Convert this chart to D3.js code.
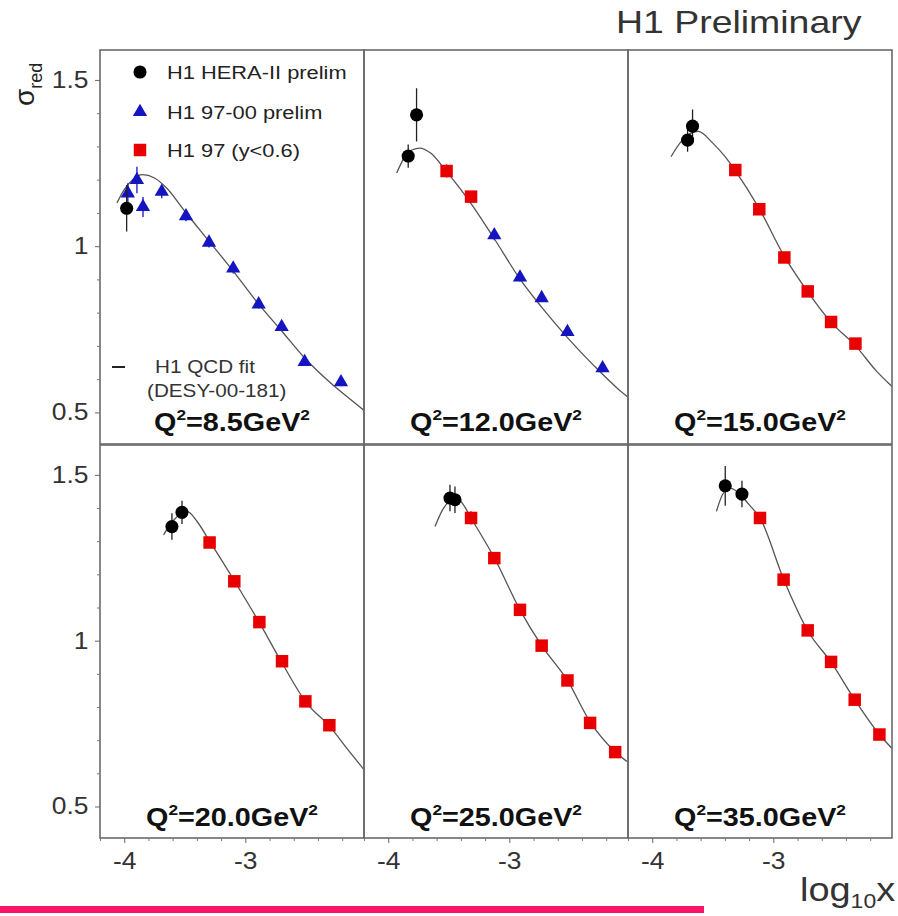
<!DOCTYPE html>
<html><head><meta charset="utf-8">
<script src="https://cdn.jsdelivr.net/npm/d3@7"></script>
<style>body{margin:0;background:#fff}svg{display:block}</style>
</head><body><svg id="c" width="898" height="916"></svg>
<script>
// ---------------- data ----------------
const q2Labels = ["8.5", "12.0", "15.0", "20.0", "25.0", "35.0"];

// H1 HERA-II prelim (black circles)
const heraX   = [[-3.98], [-3.835, -3.766], [-3.708, -3.667], [-3.606, -3.523], [-3.49, -3.449], [-3.397, -3.259]];
const heraY   = [[1.114], [1.271, 1.395], [1.319, 1.361], [1.344, 1.387], [1.43, 1.425], [1.467, 1.442]];
const heraErr = [[0.07], [0.035, 0.08], [0.035, 0.05], [0.04, 0.035], [0.04, 0.04], [0.06, 0.04]];

// H1 97-00 prelim (blue triangles)
const h9700X   = [[-3.97, -3.895, -3.845, -3.69, -3.49, -3.30, -3.10, -2.89, -2.70, -2.51, -2.21],
                  [-3.124, -2.912, -2.733, -2.52, -2.23], [], [], [], []];
const h9700Y   = [[1.159, 1.199, 1.118, 1.164, 1.09, 1.011, 0.933, 0.825, 0.757, 0.652, 0.591],
                  [1.033, 0.906, 0.844, 0.742, 0.633], [], [], [], []];
const h9700Err = [[0.03, 0.04, 0.03, 0.02, 0.015, 0.015, 0.015, 0.012, 0.012, 0.012, 0.012],
                  [0.015, 0.012, 0.012, 0.012, 0.012], [], [], [], []];

// H1 97 (y<0.6) (red squares)
const h97X = [[],
              [-3.518, -3.316],
              [-3.314, -3.116, -2.909, -2.716, -2.523, -2.322],
              [-3.295, -3.091, -2.884, -2.697, -2.504, -2.306],
              [-3.316, -3.124, -2.912, -2.733, -2.52, -2.333, -2.126],
              [-3.11, -2.915, -2.716, -2.523, -2.328, -2.124]];
const h97Y = [[],
              [1.226, 1.149],
              [1.229, 1.111, 0.966, 0.864, 0.772, 0.707],
              [1.296, 1.179, 1.056, 0.938, 0.817, 0.745],
              [1.370, 1.249, 1.093, 0.985, 0.88, 0.752, 0.664],
              [1.370, 1.184, 1.031, 0.936, 0.822, 0.717]];
const h97Err = [[], [0.02, 0.015], [0.015, 0.012, 0.012, 0.012, 0.012, 0.012],
                [0.015, 0.012, 0.012, 0.012, 0.012, 0.012],
                [0.02, 0.012, 0.012, 0.012, 0.012, 0.012, 0.012],
                [0.015, 0.012, 0.012, 0.012, 0.012, 0.012]];

// H1 QCD fit curve
const fitX = [
  [-4.06, -4.0, -3.93, -3.85, -3.75, -3.65, -3.5, -3.3, -3.1, -2.9, -2.7, -2.5, -2.3, -2.1, -2.02],
  [-3.93, -3.87, -3.8, -3.74, -3.65, -3.52, -3.4, -3.3, -3.12, -2.91, -2.73, -2.52, -2.3, -2.1, -2.02],
  [-3.845, -3.76, -3.68, -3.62, -3.5, -3.4, -3.31, -3.12, -2.91, -2.72, -2.52, -2.32, -2.15, -2.02],
  [-3.675, -3.6, -3.52, -3.48, -3.4, -3.295, -3.09, -2.885, -2.7, -2.5, -2.3, -2.15, -2.02],
  [-3.614, -3.55, -3.48, -3.43, -3.38, -3.316, -3.124, -2.912, -2.733, -2.52, -2.333, -2.126, -2.03],
  [-3.47, -3.42, -3.36, -3.3, -3.2, -3.11, -2.915, -2.716, -2.523, -2.328, -2.124, -2.02]];
const fitY = [
  [1.13, 1.17, 1.20, 1.215, 1.205, 1.175, 1.105, 1.015, 0.925, 0.83, 0.745, 0.66, 0.59, 0.53, 0.506],
  [1.22, 1.265, 1.29, 1.295, 1.28, 1.225, 1.17, 1.12, 1.02, 0.9, 0.815, 0.725, 0.64, 0.57, 0.546],
  [1.269, 1.315, 1.34, 1.345, 1.31, 1.27, 1.225, 1.115, 0.97, 0.865, 0.77, 0.7, 0.625, 0.578],
  [1.319, 1.36, 1.385, 1.39, 1.36, 1.30, 1.18, 1.055, 0.935, 0.815, 0.74, 0.67, 0.611],
  [1.344, 1.395, 1.425, 1.43, 1.41, 1.37, 1.25, 1.093, 0.985, 0.88, 0.755, 0.665, 0.636],
  [1.39, 1.44, 1.46, 1.45, 1.41, 1.37, 1.185, 1.03, 0.935, 0.822, 0.717, 0.675]];

const xDomain = [-4.2, -2.02];
const yDomain = [0.405, 1.59];
const xTicks = [-4, -3];
const xTickLabels = ["-4", "-3"];
const xMinor = [-4.2, -3.8, -3.6, -3.4, -3.2, -2.8, -2.6, -2.4, -2.2];
const yTicks = [0.5, 1, 1.5];
const yTickLabels = ["0.5", "1", "1.5"];
const yMinor = [0.6, 0.7, 0.8, 0.9, 1.1, 1.2, 1.3, 1.4];

const legendLabels = ["H1 HERA-II prelim", "H1 97-00 prelim", "H1 97 (y<0.6)"];
const fitLabels = ["H1 QCD fit", "(DESY-00-181)"];

// ---------------- layout ----------------
const svg = d3.select("#c");
const colL = [100, 364, 628], pw = 264;
const rowT = [50, 445], rowB = [444, 838];
const SX = 1.15; // horizontal stretch of the original typesetting
const FONT = "'Liberation Sans', Arial, Helvetica, sans-serif";
const cBlue = "#1414c0", cRed = "#e80000", cFit = "#555";

svg.append("rect").attr("width", 898).attr("height", 916).attr("fill", "#fff");

const symCircle = d3.symbol(d3.symbolCircle, 135)();
const symTri = d3.symbol(d3.symbolTriangle, 88)();
const symSq = d3.symbol(d3.symbolSquare, 156)();

for (let i = 0; i < 6; i++) {
  const col = i % 3, row = Math.floor(i / 3);
  const x = d3.scaleLinear().domain(xDomain).range([colL[col], colL[col] + pw]);
  const y = d3.scaleLinear().domain(yDomain).range([rowB[row], rowT[row]]);
  const g = svg.append("g");

  const cid = "clip" + i;
  svg.append("clipPath").attr("id", cid).append("rect")
    .attr("x", colL[col]).attr("y", rowT[row]).attr("width", pw).attr("height", rowB[row] - rowT[row]);

  // fit curve
  const pts = fitX[i].map((v, k) => [v, fitY[i][k]]);
  g.append("path").attr("clip-path", `url(#${cid})`)
    .attr("d", d3.line().x(d => x(d[0])).y(d => y(d[1])).curve(d3.curveMonotoneX)(pts))
    .attr("fill", "none").attr("stroke", cFit).attr("stroke-width", 1.3);

  // series
  const series = [
    {xs: h97X[i], ys: h97Y[i], es: h97Err[i], sym: symSq, col: cRed},
    {xs: h9700X[i], ys: h9700Y[i], es: h9700Err[i], sym: symTri, col: cBlue},
    {xs: heraX[i], ys: heraY[i], es: heraErr[i], sym: symCircle, col: "#000"}
  ];
  series.forEach(s => {
    const d = s.xs.map((v, k) => ({x: v, y: s.ys[k], e: s.es[k]}));
    g.selectAll(null).data(d).enter().append("line")
      .attr("x1", p => x(p.x)).attr("x2", p => x(p.x))
      .attr("y1", p => y(p.y - p.e)).attr("y2", p => y(p.y + p.e))
      .attr("stroke", s.col === "#000" ? "#222" : s.col).attr("stroke-width", 1.3);
    g.selectAll(null).data(d).enter().append("path")
      .attr("d", s.sym)
      .attr("transform", p => `translate(${x(p.x)},${y(p.y)})`)
      .attr("fill", s.col);
  });

  // frame
  g.append("rect").attr("x", colL[col]).attr("y", rowT[row])
    .attr("width", pw).attr("height", rowB[row] - rowT[row])
    .attr("fill", "none").attr("stroke", "#6a6a6a").attr("stroke-width", 1.6);

  // Q2 label
  const ql = g.append("text")
    .attr("transform", `translate(${colL[col] + pw / 2},${rowT[row] + 381}) scale(${SX},1)`)
    .attr("text-anchor", "middle").attr("font-family", FONT).attr("font-weight", "bold")
    .attr("font-size", 25).attr("fill", "#111");
  ql.append("tspan").text("Q");
  ql.append("tspan").attr("font-size", 15).attr("dy", -11).text("2");
  ql.append("tspan").attr("dy", 11).text("=" + q2Labels[i] + "GeV");
  ql.append("tspan").attr("font-size", 15).attr("dy", -11).text("2");

  // axes
  if (col === 0) {
    const ax = g.append("g").attr("transform", `translate(${colL[col]},0)`)
      .call(d3.axisLeft(y).tickValues(yTicks).tickFormat((d, k) => yTickLabels[k]).tickSize(5).tickPadding(5));
    ax.select(".domain").remove();
    ax.selectAll("line").attr("stroke", "#666");
    ax.selectAll("text").attr("font-family", FONT).attr("font-size", 23).attr("fill", "#333")
      .attr("transform", `scale(${SX},1)`);
    const axm = g.append("g").attr("transform", `translate(${colL[col]},0)`)
      .call(d3.axisLeft(y).tickValues(yMinor).tickFormat("").tickSize(3));
    axm.select(".domain").remove();
    axm.selectAll("line").attr("stroke", "#777");
  }
  if (row === 1) {
    const ax = g.append("g").attr("transform", `translate(0,${rowB[row]})`)
      .call(d3.axisBottom(x).tickValues(xTicks).tickFormat((d, k) => xTickLabels[k]).tickSize(5).tickPadding(10));
    ax.select(".domain").remove();
    ax.selectAll("line").attr("stroke", "#666");
    ax.selectAll("text").attr("font-family", FONT).attr("font-size", 23).attr("fill", "#333")
      .attr("transform", `scale(${SX},1)`);
    const axm = g.append("g").attr("transform", `translate(0,${rowB[row]})`)
      .call(d3.axisBottom(x).tickValues(xMinor).tickFormat("").tickSize(3));
    axm.select(".domain").remove();
    axm.selectAll("line").attr("stroke", "#777");
  }
}

// legend
const legY = [72, 112, 150];
const legSym = [symCircle, symTri, symSq];
const legCol = ["#000", cBlue, cRed];
legendLabels.forEach((t, k) => {
  svg.append("path").attr("d", legSym[k]).attr("transform", `translate(140,${legY[k]})`).attr("fill", legCol[k]);
  svg.append("text").attr("transform", `translate(167,${legY[k] + 7}) scale(${SX},1)`)
    .attr("font-family", FONT).attr("font-size", 19).attr("fill", "#222").text(t);
});
svg.append("line").attr("x1", 112).attr("x2", 125).attr("y1", 367).attr("y2", 367)
  .attr("stroke", "#222").attr("stroke-width", 2);
svg.append("text").attr("transform", `translate(155,373) scale(${SX},1)`)
  .attr("font-family", FONT).attr("font-size", 18).attr("fill", "#333").text(fitLabels[0]);
svg.append("text").attr("transform", `translate(147,397) scale(${SX},1)`)
  .attr("font-family", FONT).attr("font-size", 18).attr("fill", "#333").text(fitLabels[1]);

// title
svg.append("text").attr("transform", `translate(616,33) scale(1.17,1)`)
  .attr("font-family", FONT).attr("font-size", 32).attr("fill", "#333").text("H1 Preliminary");

// y axis title
const yt = svg.append("text").attr("transform", "translate(34,106) rotate(-90)")
  .attr("font-family", FONT).attr("fill", "#222");
yt.append("tspan").attr("font-size", 28).text("σ");
yt.append("tspan").attr("font-size", 18).attr("dy", 8).text("red");

// x axis title
const xt = svg.append("text").attr("transform", `translate(800,901) scale(${SX},1)`)
  .attr("font-family", FONT).attr("fill", "#333");
xt.append("tspan").attr("font-size", 33).text("log");
xt.append("tspan").attr("font-size", 20).attr("dy", 7).text("10");
xt.append("tspan").attr("font-size", 33).attr("dy", -7).text("x");

// pink bar along the bottom edge
svg.append("rect").attr("x", 0).attr("y", 906).attr("width", 704).attr("height", 7).attr("fill", "#fb1369");
</script>
</body></html>
